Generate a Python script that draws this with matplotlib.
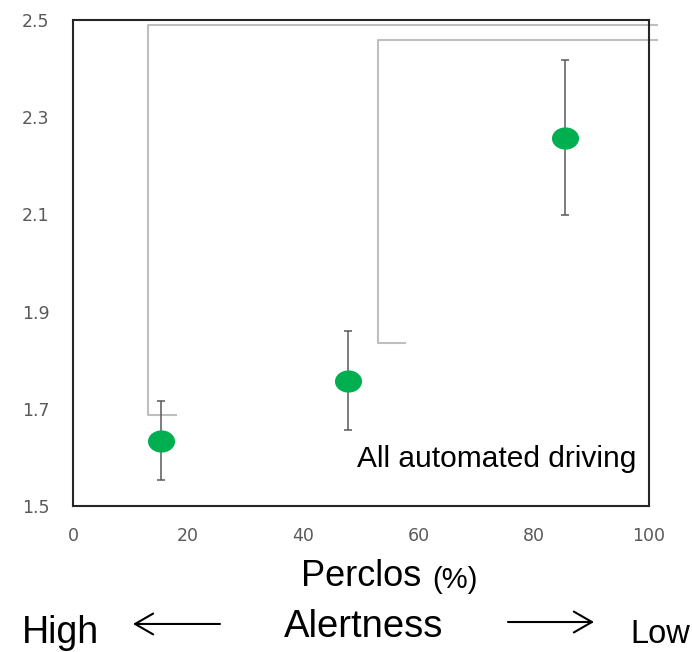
import matplotlib
matplotlib.use("Agg")
from matplotlib import pyplot as plt
from matplotlib.path import Path
from matplotlib.markers import MarkerStyle
from matplotlib.transforms import Affine2D
from matplotlib.patches import FancyArrowPatch

perclos = [15.3, 47.7, 85.4]
score = [1.634, 1.757, 2.258]
err_low = [1.553, 1.656, 2.098]
err_high = [1.716, 1.861, 2.418]

# bracket lines (gray) for significance
br1_x = [17.9, 13.0, 13.0, 101.4]
br1_y = [1.687, 1.687, 2.489, 2.489]
br2_x = [57.6, 53.0, 53.0, 101.4]
br2_y = [1.835, 1.835, 2.459, 2.459]

xticks = [0, 20, 40, 60, 80, 100]
yticks = [1.5, 1.7, 1.9, 2.1, 2.3, 2.5]

sans = ["Liberation Sans", "DejaVu Sans"]

fig = plt.figure(figsize=(6.92, 6.52), dpi=100)
ax = fig.add_axes([0.1055, 0.2239, 0.8324, 0.7454])

ax.plot(br1_x, br1_y, color="#bfbfbf", lw=1.5, clip_on=False, zorder=1)
ax.plot(br2_x, br2_y, color="#bfbfbf", lw=1.5, clip_on=False, zorder=1)

yerr = [[s - l for s, l in zip(score, err_low)], [h - s for s, h in zip(score, err_high)]]
ax.errorbar(perclos, score, yerr=yerr, fmt="none", ecolor="#595959", elinewidth=1.1,
            capsize=3, capthick=1.1, zorder=2)

ellipse = Path.unit_circle().transformed(Affine2D().scale(1.22, 1.0))
ax.plot(perclos, score, linestyle="none", marker=MarkerStyle(ellipse), markersize=19.5,
        color="#00b050", markeredgewidth=0, zorder=3)

ax.text(49.3, 1.580, "All automated driving", fontsize=21.5, va="baseline", ha="left",
        family=sans)

ax.set_xlim(0, 100)
ax.set_ylim(1.5, 2.5)
ax.set_xticks(xticks)
ax.set_yticks(yticks)
ax.set_yticklabels([f"{v:.1f}" for v in yticks])
ax.tick_params(length=0, labelsize=12.5, labelcolor="#595959")
ax.tick_params(axis="y", pad=17)
ax.tick_params(axis="x", pad=15)
for s in ax.spines.values():
    s.set_color("#262626")
    s.set_linewidth(1.5)

fig.text(301 / 692, 0.101, "Perclos", fontsize=26, ha="left", va="baseline", family=sans)
fig.text(432 / 692, 0.098, "(%)", fontsize=21, ha="left", va="baseline", family=sans)
fig.text(22 / 692, 0.0138, "High", fontsize=27, ha="left", va="baseline", family=sans)
fig.text(364 / 692, 0.023, "Alertness", fontsize=27.5, ha="center", va="baseline", family=sans)
fig.text(630 / 692, 0.0138, "Low", fontsize=23.5, ha="left", va="baseline", family=sans)

for x0, x1, y in [(220, 133, 0.043), (508, 594, 0.046)]:
    fig.add_artist(FancyArrowPatch((x0 / 692, y), (x1 / 692, y), transform=fig.transFigure,
                   arrowstyle="->,head_length=13,head_width=7.5", color="black", lw=1.5,
                   shrinkA=0, shrinkB=0))

plt.savefig("out.png", dpi=100)
